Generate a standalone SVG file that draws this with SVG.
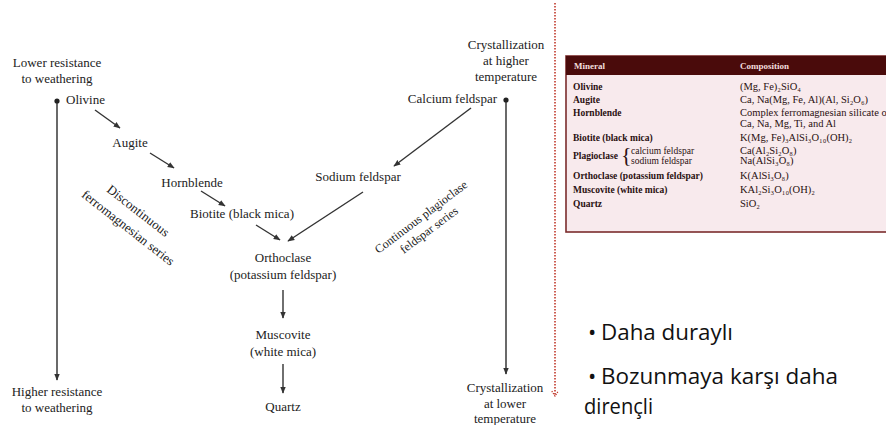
<svg xmlns="http://www.w3.org/2000/svg" width="886" height="425" viewBox="0 0 886 425">
<defs>
<style>
.t{font-family:"Liberation Serif","Times New Roman",serif;font-size:13px;fill:#222}
.m{text-anchor:middle}
.e{text-anchor:end}
.c{stroke:#333;stroke-width:1.4;fill:none}
.ax{stroke:#444;stroke-width:1.6;fill:none}
.tb{font-family:"Liberation Serif","Times New Roman",serif;font-size:9.5px;fill:#2a1010}
.tc{font-family:"Liberation Serif","Times New Roman",serif;font-size:10.5px;fill:#2a1010}
.b{font-weight:bold}
.hd{font-family:"Liberation Serif",serif;font-size:9px;font-weight:bold;fill:#f3dede}
.bl{font-family:"Open Sans","Noto Sans",sans-serif;font-size:22px;fill:#111}
</style>
<marker id="ah" viewBox="0 0 10 10" refX="9" refY="5" markerWidth="7" markerHeight="7" markerUnits="userSpaceOnUse" orient="auto">
<path d="M0,1 L10,5 L0,9 Z" fill="#333"/>
</marker>
<marker id="rh" viewBox="0 0 10 10" refX="5" refY="9" markerWidth="8" markerHeight="8" markerUnits="userSpaceOnUse" orient="0">
<path d="M1,3 L5,9 L9,3" fill="none" stroke="#c0392b" stroke-width="1.6" stroke-dasharray="1.5,1.5"/>
</marker>
</defs>
<rect width="886" height="425" fill="#ffffff"/>

<g id="connectors">
<line class="ax" x1="57" y1="101" x2="57" y2="380" marker-end="url(#ah)"/>
<line class="ax" x1="506" y1="100" x2="506" y2="374" marker-end="url(#ah)"/>
<line class="c" x1="95" y1="110" x2="120" y2="128" marker-end="url(#ah)"/>
<line class="c" x1="150" y1="153" x2="174" y2="168" marker-end="url(#ah)"/>
<line class="c" x1="201" y1="191" x2="225" y2="206" marker-end="url(#ah)"/>
<line class="c" x1="256" y1="225" x2="280" y2="240" marker-end="url(#ah)"/>
<line class="c" x1="471" y1="108" x2="394" y2="166" marker-end="url(#ah)"/>
<line class="c" x1="363" y1="192" x2="288" y2="241" marker-end="url(#ah)"/>
<line class="c" x1="283" y1="290" x2="283" y2="318" marker-end="url(#ah)"/>
<line class="c" x1="283" y1="364" x2="283" y2="393" marker-end="url(#ah)"/>
<line x1="555" y1="3" x2="555" y2="396" stroke="#c0392b" stroke-width="1.6" stroke-dasharray="1.5,1.5" marker-end="url(#rh)"/>
</g>

<g id="lower-resistance"><text class="t m" x="57" y="67">Lower resistance</text><text class="t m" x="57" y="83">to weathering</text></g>
<g id="higher-resistance"><text class="t m" x="57" y="396">Higher resistance</text><text class="t m" x="57" y="412">to weathering</text></g>
<g id="olivine"><circle cx="57" cy="101" r="2.6" fill="#222"/><text class="t" x="66" y="104">Olivine</text></g>
<g id="augite"><text class="t m" x="130" y="147">Augite</text></g>
<g id="hornblende"><text class="t m" x="192" y="187">Hornblende</text></g>
<g id="biotite"><text class="t" x="190" y="218">Biotite (black mica)</text></g>
<g id="orthoclase"><text class="t m" x="283" y="262">Orthoclase</text><text class="t m" x="283" y="279">(potassium feldspar)</text></g>
<g id="muscovite"><text class="t m" x="283" y="339">Muscovite</text><text class="t m" x="283" y="356">(white mica)</text></g>
<g id="quartz"><text class="t m" x="283" y="411">Quartz</text></g>
<g id="cryst-high"><text class="t m" x="506" y="49">Crystallization</text><text class="t m" x="506" y="65">at higher</text><text class="t m" x="506" y="81">temperature</text></g>
<g id="calcium-feldspar"><circle cx="506" cy="100" r="2.6" fill="#222"/><text class="t e" x="497" y="103">Calcium feldspar</text></g>
<g id="sodium-feldspar"><text class="t m" x="358" y="181">Sodium feldspar</text></g>
<g id="cryst-low"><text class="t m" x="505" y="392">Crystallization</text><text class="t m" x="505" y="408">at lower</text><text class="t m" x="505" y="423">temperature</text></g>
<g id="discontinuous-label">
<text class="t m" transform="translate(138,211) rotate(38)" y="4">Discontinuous</text>
<text class="t m" transform="translate(128,228) rotate(38)" y="4">ferromagnesian series</text>
</g>
<g id="continuous-label">
<text class="t m" style="font-size:12px" transform="translate(421,217) rotate(-37)" y="4">Continuous plagioclase</text>
<text class="t m" style="font-size:12px" transform="translate(429,230) rotate(-37)" y="4">feldspar series</text>
</g>

<g id="table">
<rect x="566" y="56" width="330" height="176" fill="#f8eaed" stroke="#7b2c2c" stroke-width="1.6"/>
<rect x="566" y="56" width="330" height="19" fill="#4a0b0b"/>
<text class="hd" x="574" y="69">Mineral</text>
<text class="hd" x="740" y="69">Composition</text>
<text class="tb b" x="573" y="90">Olivine</text><text class="tc" x="740" y="90">(Mg, Fe)₂SiO₄</text>
<text class="tb b" x="573" y="103">Augite</text><text class="tc" x="740" y="103">Ca, Na(Mg, Fe, Al)(Al, Si₂O₆)</text>
<text class="tb b" x="573" y="116">Hornblende</text><text class="tc" x="740" y="116">Complex ferromagnesian silicate of</text>
<text class="tc" x="740" y="127">Ca, Na, Mg, Ti, and Al</text>
<text class="tb b" x="573" y="141">Biotite (black mica)</text><text class="tc" x="740" y="141">K(Mg, Fe)₃AlSi₃O₁₀(OH)₂</text>
<text class="tb b" x="573" y="159">Plagioclase</text>
<text x="621" y="162" style="font-family:'Liberation Serif',serif;font-size:22px;fill:#2a1010">{</text>
<text class="tb" x="631" y="154">calcium feldspar</text><text class="tc" x="740" y="154">Ca(Al₂Si₂O₈)</text>
<text class="tb" x="631" y="164">sodium feldspar</text><text class="tc" x="740" y="164">Na(AlSi₃O₈)</text>
<text class="tb b" x="573" y="179">Orthoclase (potassium feldspar)</text><text class="tc" x="740" y="179">K(AlSi₃O₈)</text>
<text class="tb b" x="573" y="193">Muscovite (white mica)</text><text class="tc" x="740" y="193">KAl₂Si₃O₁₀(OH)₂</text>
<text class="tb b" x="573" y="207">Quartz</text><text class="tc" x="740" y="207">SiO₂</text>
</g>

<g id="bullets">
<text class="bl" x="588" y="340">•</text><text class="bl" x="601" y="340" textLength="132" lengthAdjust="spacingAndGlyphs">Daha duraylı</text>
<text class="bl" x="588" y="384">•</text><text class="bl" x="601" y="384" textLength="237" lengthAdjust="spacingAndGlyphs">Bozunmaya karşı daha</text>
<text class="bl" x="584" y="414" textLength="69" lengthAdjust="spacingAndGlyphs">dirençli</text>
</g>
</svg>
